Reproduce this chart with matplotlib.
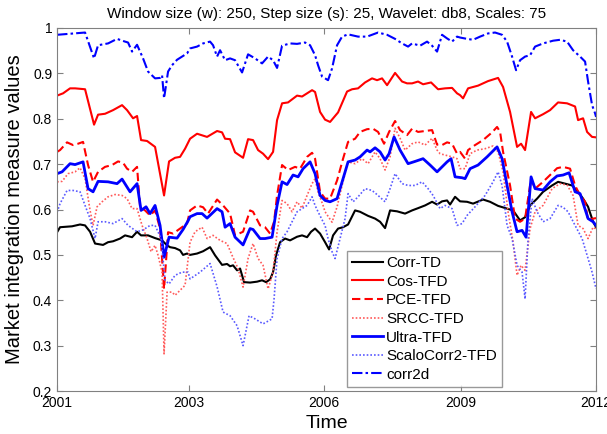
import matplotlib
matplotlib.use('Agg')
import matplotlib.pyplot as plt

plt.rcParams['font.family'] = ['Liberation Sans', 'DejaVu Sans']

# eje temporal (0 = 2001, 539 = 2012)
tick_pos = [0, 132, 267, 404, 539]
tick_lab = ['2001', '2003', '2006', '2009', '2012']

corr2d_x = [0, 28, 37, 41, 51, 60, 68, 71, 75, 80, 86, 91, 98, 103, 105, 107, 111, 115, 120, 125, 130,
            133, 140, 146, 153, 156, 160, 163, 168, 173, 178, 185, 191, 198, 205, 211, 216, 220, 225, 233, 240, 248, 253, 258, 261, 265,
            268, 271, 275, 280, 285, 291, 301, 310, 321, 330, 338, 345, 351, 355, 363, 370, 375, 380, 385, 390, 395, 400,
            403, 410, 416, 423, 431, 438, 445, 450, 455, 459, 463, 468, 473, 478, 486, 496, 503, 510, 516, 523, 528, 531, 535, 538, 539]
corr2d_y = [.985, .990, .933, .962, .966, .976, .970, .968, .948, .963, .933, .904, .889, .890, .896, .845, .904, .918, .930, .937, .944,
            .955, .959, .966, .970, .962, .937, .951, .929, .933, .929, .902, .942, .933, .922, .937, .929, .912, .961, .966, .965, .968, .962, .940, .918, .893,
            .889, .885, .911, .962, .981, .986, .981, .981, .990, .985, .976, .966, .959, .966, .961, .970, .961, .948, .985, .977, .970, .981,
            .979, .976, .974, .981, .988, .990, .985, .970, .937, .907, .929, .937, .940, .959, .966, .972, .974, .970, .951, .937, .926, .882, .830, .812, .804]

cos_x = [0, 6, 13, 18, 28, 37, 41, 48, 56, 65, 70, 76, 80, 84, 90, 98, 107, 112, 118, 123, 128,
         133, 140, 150, 160, 165, 168, 173, 178, 186, 191, 196, 201, 206, 211, 216, 220, 225, 231, 240, 245, 250, 255, 258, 263,
         268, 273, 281, 290, 295, 301, 308, 315, 320, 325, 330, 338, 345, 350, 355, 361, 366, 374, 381, 388, 395, 400,
         403, 406, 411, 421, 431, 441, 446, 453, 460, 464, 468, 474, 478, 486, 493, 501, 510, 518, 521, 526, 530, 535, 539]
cos_y = [.851, .856, .867, .867, .865, .787, .809, .811, .819, .830, .819, .801, .806, .753, .751, .738, .631, .706, .714, .716, .734,
         .756, .767, .760, .773, .770, .756, .755, .726, .714, .755, .753, .731, .723, .711, .727, .797, .834, .836, .851, .849, .856, .863, .859, .815,
         .798, .793, .814, .860, .865, .867, .880, .889, .885, .889, .874, .901, .882, .878, .878, .882, .876, .880, .865, .867, .868, .856,
         .852, .845, .867, .873, .883, .890, .870, .815, .738, .745, .731, .815, .801, .810, .819, .836, .834, .827, .797, .801, .771, .760, .759]

pce_x = [0, 3, 10, 16, 21, 26, 31, 36, 41, 48, 55, 61, 66, 70, 75, 80, 83, 88, 93, 98, 103, 107, 111, 116, 123, 130,
         133, 140, 146, 151, 160, 166, 173, 178, 186, 193, 196, 203, 208, 213, 217, 220, 225, 231, 238, 243, 250, 255, 258, 263,
         268, 273, 280, 286, 291, 298, 303, 310, 316, 321, 327, 332, 338, 343, 350, 355, 361, 368, 375, 380, 385, 390, 395, 400,
         403, 408, 411, 418, 426, 435, 440, 443, 446, 453, 458, 463, 468, 474, 478, 486, 493, 500, 506, 513, 518, 523, 528, 531, 536, 539]
pce_y = [.727, .731, .748, .742, .745, .749, .698, .661, .683, .694, .698, .706, .703, .690, .683, .694, .606, .598, .587, .598, .558, .425, .550, .547, .558, .569,
         .598, .609, .605, .591, .622, .609, .591, .543, .551, .598, .595, .565, .561, .547, .573, .631, .698, .687, .694, .690, .716, .725, .712, .639,
         .624, .624, .664, .712, .749, .756, .771, .777, .778, .771, .745, .771, .795, .775, .764, .778, .771, .773, .775, .743, .742, .748, .745, .723,
         .727, .712, .731, .742, .753, .770, .782, .771, .727, .653, .580, .573, .580, .668, .646, .661, .676, .691, .694, .690, .653, .631, .617, .576, .580, .581]

srcc_x = [0, 5, 11, 18, 23, 28, 33, 36, 40, 45, 51, 58, 65, 70, 75, 80, 85, 90, 94, 98, 101, 105, 107, 110, 115, 118, 123, 128,
          133, 138, 145, 150, 156, 163, 170, 175, 181, 186, 191, 196, 201, 206, 211, 216, 220, 225, 230, 235, 240, 245, 250, 255, 258, 261, 266,
          268, 275, 280, 285, 291, 298, 305, 311, 318, 323, 328, 333, 338, 343, 348, 355, 361, 368, 375, 380, 383, 388, 395, 400,
          403, 408, 413, 420, 428, 436, 441, 446, 451, 456, 460, 464, 468, 473, 478, 486, 495, 503, 510, 516, 521, 526, 531, 536, 539]
srcc_y = [.661, .662, .679, .683, .692, .668, .598, .565, .606, .617, .628, .633, .631, .624, .602, .602, .565, .536, .507, .521, .499, .462, .282, .418, .418, .411, .422, .433,
          .528, .551, .561, .536, .543, .532, .525, .499, .470, .429, .492, .525, .492, .477, .425, .462, .551, .620, .613, .595, .617, .603, .631, .657, .668, .639, .609,
          .595, .572, .606, .653, .705, .701, .712, .701, .727, .712, .687, .716, .779, .757, .731, .745, .749, .742, .757, .731, .723, .720, .716, .712,
          .690, .690, .723, .731, .734, .740, .727, .683, .595, .528, .455, .477, .466, .558, .595, .609, .646, .657, .654, .631, .565, .558, .536, .561, .557]

ultra_x = [0, 5, 13, 18, 26, 31, 36, 41, 51, 60, 65, 73, 80, 84, 89, 93, 98, 103, 107, 112, 120, 126, 131,
           133, 140, 145, 150, 160, 165, 168, 173, 178, 186, 193, 196, 203, 208, 215, 220, 225, 230, 236, 241, 246, 253, 258, 263,
           268, 273, 280, 286, 291, 298, 303, 310, 313, 318, 323, 328, 332, 337, 343, 351, 358, 366, 373, 380, 385, 390, 394, 398,
           405, 408, 413, 421, 430, 440, 445, 450, 455, 460, 465, 469, 474, 478, 486, 493, 500, 506, 512, 518, 523, 531, 536, 539]
ultra_y = [.679, .683, .701, .699, .705, .646, .639, .662, .661, .657, .667, .639, .657, .598, .606, .591, .609, .565, .495, .539, .537, .556, .575,
           .584, .591, .591, .581, .602, .595, .561, .569, .539, .522, .558, .556, .536, .536, .539, .609, .661, .655, .676, .672, .690, .705, .679, .631,
           .620, .617, .624, .668, .705, .709, .716, .731, .727, .736, .727, .709, .723, .760, .731, .701, .706, .712, .698, .683, .694, .705, .712, .672,
           .670, .668, .690, .698, .716, .738, .712, .653, .595, .551, .554, .539, .672, .646, .643, .661, .674, .676, .681, .639, .635, .580, .573, .565]

scalo_x = [0, 3, 10, 16, 23, 28, 33, 38, 41, 48, 56, 65, 71, 80, 86, 93, 98, 104, 108, 112, 118, 125, 131,
           133, 143, 153, 160, 166, 173, 180, 186, 192, 198, 206, 215, 217, 220, 225, 230, 235, 240, 245, 250, 255, 258, 261, 266,
           268, 271, 275, 278, 283, 288, 291, 296, 301, 308, 315, 321, 328, 333, 338, 345, 351, 358, 365, 371, 376, 383, 388, 395, 400,
           405, 410, 418, 428, 436, 441, 445, 450, 455, 460, 465, 468, 471, 475, 480, 486, 493, 501, 506, 511, 518, 525, 531, 535, 539]
scalo_y = [.594, .613, .642, .642, .639, .609, .580, .536, .573, .573, .569, .580, .565, .551, .555, .565, .565, .536, .444, .436, .455, .462, .462,
           .447, .462, .481, .430, .374, .366, .344, .300, .366, .359, .348, .359, .403, .492, .536, .551, .573, .595, .602, .609, .628, .609, .595, .573,
           .565, .536, .507, .492, .536, .580, .635, .617, .628, .646, .642, .631, .617, .646, .679, .657, .653, .653, .661, .646, .631, .602, .609, .602, .565,
           .569, .587, .606, .631, .661, .683, .653, .565, .536, .477, .462, .403, .536, .624, .595, .573, .580, .609, .605, .595, .565, .536, .492, .462, .425]

corrtd_x = [0, 3, 15, 23, 28, 33, 38, 46, 51, 56, 63, 68, 75, 80, 84, 91, 98, 105, 110, 113, 118, 123, 126, 130,
            133, 140, 146, 153, 158, 165, 170, 173, 176, 180, 183, 187, 193, 200, 205, 209, 213, 216, 219, 223, 228, 233, 240, 245, 250, 254, 258, 263,
            268, 272, 276, 281, 286, 291, 298, 303, 311, 318, 323, 328, 333, 340, 348, 355, 361, 368, 375, 380, 385, 390, 393, 398,
            403, 410, 416, 426, 433, 441, 450, 456, 463, 468, 473, 480, 486, 495, 501, 508, 515, 521, 526, 531, 536, 539]
corrtd_y = [.550, .561, .563, .567, .565, .551, .525, .522, .528, .530, .536, .543, .539, .551, .543, .543, .537, .532, .521, .517, .515, .510, .500, .503,
            .500, .503, .508, .517, .499, .478, .480, .475, .477, .466, .470, .440, .439, .441, .444, .440, .446, .462, .499, .528, .536, .532, .540, .543, .539, .551, .558, .547,
            .528, .512, .543, .558, .561, .567, .598, .595, .586, .580, .573, .559, .598, .596, .591, .598, .603, .609, .617, .611, .618, .620, .611, .628,
            .618, .617, .613, .622, .617, .608, .602, .598, .576, .583, .609, .624, .639, .653, .661, .657, .653, .639, .624, .606, .573, .561]

fig, ax = plt.subplots(figsize=(6.07, 4.34), dpi=100)
fig.subplots_adjust(left=0.094, right=0.982, bottom=0.099, top=0.9355)

ax.plot(corrtd_x, corrtd_y, color='black', lw=1.5, label='Corr-TD')
ax.plot(cos_x, cos_y, color='red', lw=1.5, label='Cos-TFD')
ax.plot(pce_x, pce_y, color='red', lw=1.5, ls=(0, (4, 2)), label='PCE-TFD')
ax.plot(srcc_x, srcc_y, color='#ff5a5a', lw=1.2, ls=(0, (1, 1.2)), label='SRCC-TFD')
ax.plot(ultra_x, ultra_y, color='blue', lw=2, label='Ultra-TFD')
ax.plot(scalo_x, scalo_y, color='#5a5aff', lw=1.2, ls=(0, (1, 1.2)), label='ScaloCorr2-TFD')
ax.plot(corr2d_x, corr2d_y, color='blue', lw=1.5, ls=(0, (5, 1.5, 1.2, 1.5)), label='corr2d')

ax.set_xlim(0, 539)
ax.set_ylim(0.2, 1)
ax.set_xticks(tick_pos)
ax.set_xticklabels(tick_lab)
ax.set_yticks([0.2, 0.3, 0.4, 0.5, 0.6, 0.7, 0.8, 0.9, 1])
ax.set_yticklabels(['0.2', '0.3', '0.4', '0.5', '0.6', '0.7', '0.8', '0.9', '1'])
ax.tick_params(direction='in', top=True, right=True, length=4, color='#808080', labelsize=10)
for s in ax.spines.values():
    s.set_color('#808080')

ax.set_title('Window size (w): 250, Step size (s): 25, Wavelet: db8, Scales: 75', fontsize=11, pad=7)
ax.set_xlabel('Time', fontsize=14)
ax.set_ylabel('Market integration measure values', fontsize=14.5, labelpad=6)

leg = ax.legend(loc='lower left', bbox_to_anchor=(0.538, 0.011, 0.288, 0.386), mode='expand',
                fontsize=11, frameon=True, fancybox=False, borderaxespad=0,
                handlelength=2.0, handletextpad=0.2, labelspacing=0.3, borderpad=0.35)
leg.get_frame().set_edgecolor('#808080')
leg.get_frame().set_linewidth(1)

plt.savefig('out.png', dpi=100)
